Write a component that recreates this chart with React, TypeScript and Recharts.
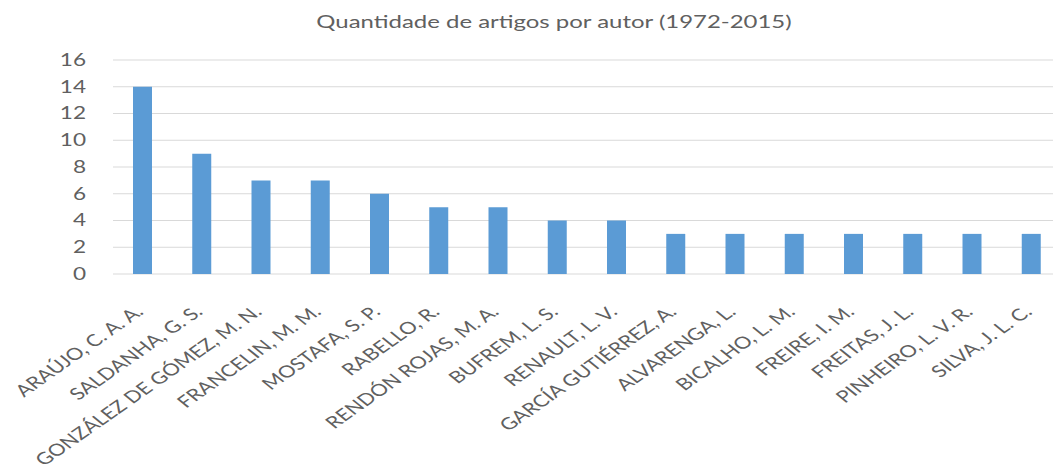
import { BarChart, Bar, XAxis, YAxis, CartesianGrid } from "recharts";

const authors: string[] = [
  "ARAÚJO, C. A. A.",
  "SALDANHA, G. S.",
  "GONZÁLEZ DE GÓMEZ, M. N.",
  "FRANCELIN, M. M.",
  "MOSTAFA, S. P.",
  "RABELLO, R.",
  "RENDÓN ROJAS, M. A.",
  "BUFREM, L. S.",
  "RENAULT, L. V.",
  "GARCÍA GUTIÉRREZ, A.",
  "ALVARENGA, L.",
  "BICALHO, L. M.",
  "FREIRE, I. M.",
  "FREITAS, J. L.",
  "PINHEIRO, L. V. R.",
  "SILVA, J. L. C.",
];

const artigos: number[] = [14, 9, 7, 7, 6, 5, 5, 4, 4, 3, 3, 3, 3, 3, 3, 3];

const yTicks: number[] = [0, 2, 4, 6, 8, 10, 12, 14, 16];

const title = "Quantidade de artigos por autor (1972-2015)";

const data = authors.map((name, i) => ({ name, artigos: artigos[i] }));

const FONT = "Lato, 'Open Sans', sans-serif";
const TEXT = "#606060";
const STRETCH = 1.33;

const XTick = (props: any) => {
  const { x, y, payload } = props;
  return (
    <g transform={`translate(${x + 2},${y + 39})`}>
      <g transform={`scale(${STRETCH},1) rotate(-43)`}>
        <text
          x={0}
          y={0}
          textAnchor="end"
          fill={TEXT}
          fontSize={16.5}
          fontFamily={FONT}
        >
          {payload.value}
        </text>
      </g>
    </g>
  );
};

const YTick = (props: any) => {
  const { x, y, payload } = props;
  return (
    <g transform={`translate(${x},${y}) scale(${STRETCH},1)`}>
      <text
        x={0}
        y={0}
        dy="0.35em"
        textAnchor="end"
        fill={TEXT}
        fontSize={17}
        fontFamily={FONT}
      >
        {payload.value}
      </text>
    </g>
  );
};

const App = () => {
  return (
    <div
      style={{
        position: "fixed",
        left: 0,
        top: 0,
        width: 1053,
        height: 474,
        overflow: "hidden",
        background: "#fff",
      }}
    >
      <div
        style={{
          position: "absolute",
          left: 554,
          top: 10,
          transform: `translateX(-50%) scaleX(${STRETCH})`,
          fontFamily: FONT,
          fontSize: 18,
          color: TEXT,
          whiteSpace: "nowrap",
        }}
      >
        {title}
      </div>
      <BarChart
        width={1070}
        height={474}
        data={data}
        margin={{ top: 60, right: 9, left: 0, bottom: 10 }}
      >
        <CartesianGrid vertical={false} stroke="#D9D9D9" strokeWidth={1.2} />
        <XAxis
          dataKey="name"
          interval={0}
          height={190}
          axisLine={false}
          tickLine={false}
          tickSize={0}
          tickMargin={0}
          tick={<XTick />}
        />
        <YAxis
          domain={[0, 16]}
          ticks={yTicks}
          width={113}
          axisLine={false}
          tickLine={false}
          tickSize={0}
          tickMargin={27}
          tick={<YTick />}
        />
        <Bar
          dataKey="artigos"
          fill="#5B9BD5"
          barSize={19}
          isAnimationActive={false}
        />
      </BarChart>
    </div>
  );
};

export default App;
